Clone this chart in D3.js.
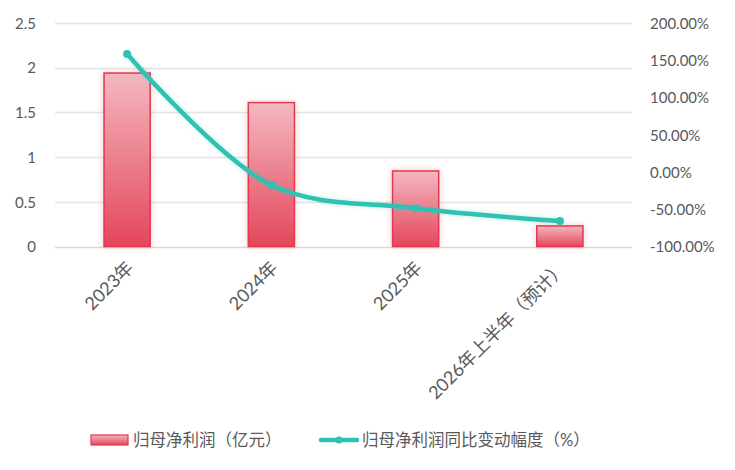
<!DOCTYPE html>
<html><head><meta charset="utf-8">
<script src="https://cdn.jsdelivr.net/npm/d3@7"></script>
<style>
body{margin:0;background:#fff;}
text{font-family:Lato,"Noto Sans CJK SC",sans-serif;fill:#595959;}
</style></head>
<body><svg id="chart" width="735" height="470"></svg>
<script>
const categories = ["2023年","2024年","2025年","2026年上半年（预计）"];
const profitValues = [1.94, 1.61, 0.845, 0.23];
const changePct = [158.4, -17.5, -48.7, -65.8];
const leftTicks = [0, 0.5, 1, 1.5, 2, 2.5];
const rightTicks = [-100, -50, 0, 50, 100, 150, 200];
const seriesNames = ["归母净利润（亿元）", "归母净利润同比变动幅度（%）"];

(function(){
const svg = d3.select("#chart");
const pLeft = 55, pRight = 632, pTop = 23, pBottom = 246.5;

const x = d3.scaleBand().domain(categories).range([pLeft, pRight]).paddingInner(0.68).paddingOuter(0.34);
const yL = d3.scaleLinear().domain([0, 2.5]).range([pBottom, pTop]);
const yR = d3.scaleLinear().domain([-100, 200]).range([pBottom, pTop]);

const defs = svg.append("defs");
const grad = defs.append("linearGradient").attr("id","barGrad").attr("x1",0).attr("y1",0).attr("x2",0).attr("y2",1);
grad.append("stop").attr("offset","0%").attr("stop-color","#F4B8C0");
grad.append("stop").attr("offset","100%").attr("stop-color","#E4465B");
const glow = defs.append("filter").attr("id","glow").attr("x","-30%").attr("y","-30%").attr("width","160%").attr("height","160%");
glow.append("feGaussianBlur").attr("in","SourceAlpha").attr("stdDeviation",3).attr("result","b");
glow.append("feFlood").attr("flood-color","#E4465B").attr("flood-opacity",0.3);
glow.append("feComposite").attr("in2","b").attr("operator","in").attr("result","c");
const m = glow.append("feMerge"); m.append("feMergeNode").attr("in","c"); m.append("feMergeNode").attr("in","SourceGraphic");
const lglow = defs.append("filter").attr("id","lglow").attr("x","-10%").attr("y","-30%").attr("width","120%").attr("height","160%");
lglow.append("feGaussianBlur").attr("in","SourceAlpha").attr("stdDeviation",2).attr("result","b");
lglow.append("feFlood").attr("flood-color","#2FC2B2").attr("flood-opacity",0.3);
lglow.append("feComposite").attr("in2","b").attr("operator","in").attr("result","c");
const m2 = lglow.append("feMerge"); m2.append("feMergeNode").attr("in","c"); m2.append("feMergeNode").attr("in","SourceGraphic");

// gridlines
svg.append("g").selectAll("line").data(leftTicks).join("line")
  .attr("x1", pLeft).attr("x2", pRight)
  .attr("y1", d => Math.round(yL(d))+0.5).attr("y2", d => Math.round(yL(d))+0.5)
  .attr("stroke", d => d===0 ? "#D9D9D9" : "#E3E3E3").attr("stroke-width", d => d===0?1.5:1.3);

// left axis
const axL = svg.append("g").attr("transform", `translate(${pLeft-19},0)`)
  .call(d3.axisLeft(yL).tickValues(leftTicks).tickSize(0).tickFormat(d => String(d)));
axL.select(".domain").remove();
axL.selectAll("text").attr("font-size", 15).attr("dy","0.35em").attr("x", 0);

// right axis
const axR = svg.append("g").attr("transform", `translate(${pRight+18},0)`)
  .call(d3.axisRight(yR).tickValues(rightTicks).tickSize(0).tickFormat(d => d.toFixed(2)+"%"));
axR.select(".domain").remove();
axR.selectAll("text").attr("font-size", 15).attr("dy","0.35em").attr("x", 0);

// bars
svg.append("g").selectAll("rect").data(categories).join("rect")
  .attr("x", d => x(d)).attr("width", x.bandwidth())
  .attr("y", (d,i) => yL(profitValues[i])).attr("height", (d,i) => pBottom - yL(profitValues[i]))
  .attr("fill","url(#barGrad)").attr("stroke","#E03A50").attr("stroke-width",1.5)
  .attr("filter","url(#glow)");

// x labels
svg.append("g").selectAll("text").data(categories).join("text")
  .attr("transform", d => `translate(${x(d)+x.bandwidth()/2+3},${pBottom+18}) rotate(-45)`)
  .attr("text-anchor","end").attr("dy","0.35em").attr("font-size",18).text(d => d);

// line
const pts = categories.map((c,i) => [x(c)+x.bandwidth()/2, yR(changePct[i])]);
svg.append("path").datum(pts)
  .attr("d", d3.line().curve(d3.curveCatmullRom.alpha(0.5)))
  .attr("fill","none").attr("stroke","#2FC2B2").attr("stroke-width",4.5).attr("stroke-linecap","round")
  .attr("filter","url(#lglow)");
svg.append("g").selectAll("circle").data(pts).join("circle")
  .attr("cx", d => d[0]).attr("cy", d => d[1]).attr("r",4).attr("fill","#2FC2B2");

// legend
const lg = svg.append("g");
lg.append("rect").attr("x",91).attr("y",435).attr("width",37).attr("height",10)
  .attr("fill","url(#barGrad)").attr("stroke","#E03A50").attr("stroke-width",1.2);
lg.append("text").attr("x",133).attr("y",440).attr("dy","0.35em").attr("font-size",16.5).text(seriesNames[0]);
lg.append("line").attr("x1",321).attr("x2",357).attr("y1",440).attr("y2",440)
  .attr("stroke","#2FC2B2").attr("stroke-width",4.5).attr("stroke-linecap","round");
lg.append("circle").attr("cx",339).attr("cy",440).attr("r",3.5).attr("fill","#2FC2B2");
lg.append("text").attr("x",362).attr("y",440).attr("dy","0.35em").attr("font-size",16.5).text(seriesNames[1]);
})();
</script></body></html>
